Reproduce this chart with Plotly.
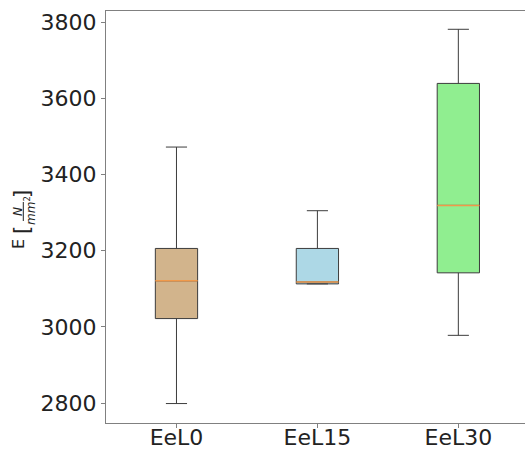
import plotly.graph_objects as go

# Summary statistics of the modulus of elasticity per series
categories = ["EeL0", "EeL15", "EeL30"]
lower_whisker = [2799, 3113, 2978]
q1_values = [3022, 3113, 3142]
medians = [3121, 3118, 3319]
q3_values = [3206, 3206, 3639]
upper_whisker = [3472, 3305, 3781]
fill_colors = ["#d2b48c", "#add8e6", "#90ee90"]
y_ticks = [2800, 3000, 3200, 3400, 3600, 3800]

W, H = 525, 450
ML, MR, MT, MB = 106, 0, 11, 27
PW, PH = W - ML - MR, H - MT - MB

BOX_W = 0.3
EDGE = "#3c3c3c"
MEDIAN = "#f0994a"
INK = "#222222"

fig = go.Figure()
for i, cat in enumerate(categories):
    fig.add_trace(go.Box(
        x=[i],
        q1=[q1_values[i]], median=[medians[i]], q3=[q3_values[i]],
        lowerfence=[lower_whisker[i]], upperfence=[upper_whisker[i]],
        width=BOX_W, whiskerwidth=0.5,
        fillcolor=fill_colors[i],
        line=dict(color=EDGE, width=1),
        boxpoints=False, showlegend=False, hoverinfo="skip",
    ))
    # median drawn in orange on top of the box
    fig.add_shape(type="line", xref="x", yref="y",
                  x0=i - BOX_W / 2, x1=i + BOX_W / 2,
                  y0=medians[i], y1=medians[i],
                  line=dict(color=MEDIAN, width=1.5), layer="above")


def px_x(p):
    return (p - ML) / PW


def px_y(p):
    return (H - MB - p) / PH


def label_piece(text, cx, cy, size):
    fig.add_annotation(text=text, x=px_x(cx), y=px_y(cy), xref="paper", yref="paper",
                       textangle=-90, showarrow=False,
                       font=dict(family="DejaVu Sans", size=size, color=INK),
                       xanchor="center", yanchor="middle")


# y-axis title: E [N / mm²] assembled from rotated pieces
label_piece("E", 18, 244, 16)
label_piece("[", 22, 230, 21)
label_piece("<i>N</i>", 18.5, 211.5, 12)
label_piece("<i>mm</i><sup>2</sup>", 30, 211, 12)
label_piece("]", 22, 194, 21)
fig.add_shape(type="line", xref="paper", yref="paper",
              x0=px_x(23.3), x1=px_x(23.3), y0=px_y(202), y1=px_y(221),
              line=dict(color=INK, width=1))

fig.update_layout(
    width=W, height=H,
    margin=dict(l=ML, r=MR, t=MT, b=MB, autoexpand=False),
    paper_bgcolor="white", plot_bgcolor="white",
    font=dict(family="DejaVu Sans", size=22, color=INK),
    xaxis=dict(
        range=[-0.5, 2.473], tickmode="array",
        tickvals=list(range(len(categories))), ticktext=categories,
        showgrid=False, zeroline=False, automargin=False,
        showline=True, linecolor="#808080", linewidth=1, mirror=True,
        ticks="outside", ticklen=4, tickcolor="#808080",
        ticklabelstandoff=-9,
    ),
    yaxis=dict(
        range=[2748, 3829], tickmode="array", tickvals=y_ticks,
        showgrid=False, zeroline=False, automargin=False,
        showline=True, linecolor="#808080", linewidth=1,
        ticks="outside", ticklen=4, tickcolor="#808080",
    ),
)

fig.write_html("out.html")
